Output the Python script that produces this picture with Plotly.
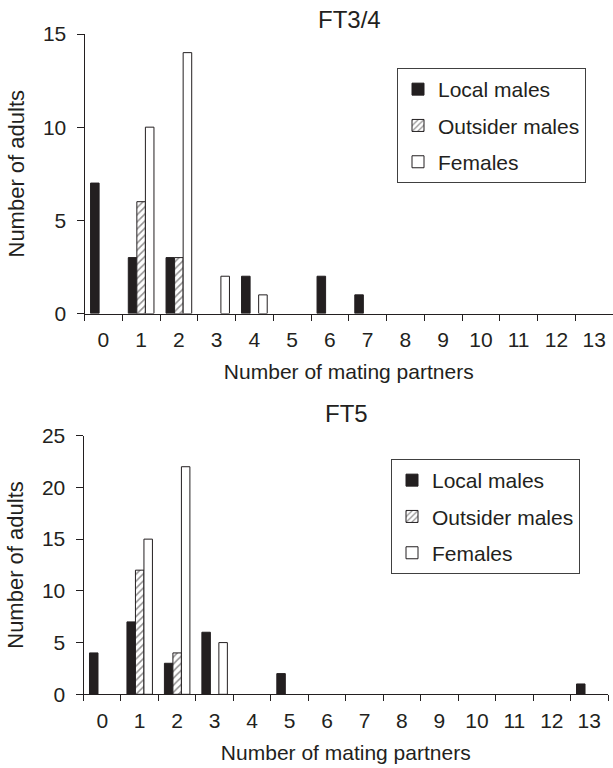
import plotly.graph_objects as go

categories = [str(i) for i in range(14)]

# FT3/4
top_local = [7, 3, 3, 0, 2, 0, 2, 1, 0, 0, 0, 0, 0, 0]
top_outsider = [0, 6, 3, 0, 0, 0, 0, 0, 0, 0, 0, 0, 0, 0]
top_females = [0, 10, 14, 2, 1, 0, 0, 0, 0, 0, 0, 0, 0, 0]

# FT5
bot_local = [4, 7, 3, 6, 0, 2, 0, 0, 0, 0, 0, 0, 0, 1]
bot_outsider = [0, 12, 4, 0, 0, 0, 0, 0, 0, 0, 0, 0, 0, 0]
bot_females = [0, 15, 22, 5, 0, 0, 0, 0, 0, 0, 0, 0, 0, 0]

series_names = ["Local males", "Outsider males", "Females"]
top_y_ticks = [0, 5, 10, 15]
bot_y_ticks = [0, 5, 10, 15, 20, 25]

INK = "#231f20"
FONT = "Liberation Sans, Arial, sans-serif"


def styles(name):
    if name == "Local males":
        return dict(color=INK, line=dict(color=INK, width=1))
    if name == "Outsider males":
        return dict(color="white", line=dict(color=INK, width=1),
                    pattern=dict(shape="/", fgcolor=INK, bgcolor="white", size=5, solidity=0.3))
    return dict(color="white", line=dict(color=INK, width=1))


def nz(vals):
    return [v if v else None for v in vals]


fig = go.Figure()
for name, vals in zip(series_names, [top_local, top_outsider, top_females]):
    fig.add_trace(go.Bar(x=categories, y=nz(vals), name=name, marker=styles(name),
                         xaxis="x", yaxis="y", legend="legend", legendgroup="t" + name))
for name, vals in zip(series_names, [bot_local, bot_outsider, bot_females]):
    fig.add_trace(go.Bar(x=categories, y=nz(vals), name=name, marker=styles(name),
                         xaxis="x2", yaxis="y2", legend="legend2", legendgroup="b" + name))

W, H = 613, 768

xcommon = dict(type="category", range=[-0.5, 13.5], tickson="boundaries", ticks="outside",
               ticklen=6, tickcolor=INK, showline=True, linecolor=INK, linewidth=1,
               showgrid=False, zeroline=False, automargin=False, ticklabelstandoff=7,
               tickfont=dict(family=FONT, size=21, color=INK),
               title=dict(text="Number of mating partners", font=dict(family=FONT, size=21, color=INK), standoff=14))
ycommon = dict(ticks="outside", ticklen=7, tickcolor=INK, showline=True, linecolor=INK,
               linewidth=1, showgrid=False, zeroline=False, automargin=False, ticklabelstandoff=6,
               tickfont=dict(family=FONT, size=21, color=INK),
               title=dict(text="Number of adults", font=dict(family=FONT, size=22, color=INK), standoff=12))

legcommon = dict(xanchor="left", yanchor="top", bordercolor="#404040", borderwidth=1,
                 bgcolor="white", font=dict(family=FONT, size=21, color=INK),
                 traceorder="grouped", tracegroupgap=6)

fig.update_layout(
    width=W, height=H,
    margin=dict(l=0, r=0, t=0, b=0),
    paper_bgcolor="white", plot_bgcolor="white",
    barmode="group", bargap=0.32, bargroupgap=0,
    xaxis=dict(domain=[84.5 / W, 1.0], anchor="y", **xcommon),
    yaxis=dict(domain=[(H - 313.5) / H, (H - 34) / H], anchor="x", range=[0, 15],
               tickvals=top_y_ticks, **ycommon),
    xaxis2=dict(domain=[83.5 / W, 608 / W], anchor="y2", **xcommon),
    yaxis2=dict(domain=[(H - 694.3) / H, (H - 435.7) / H], anchor="x2", range=[0, 25],
                tickvals=bot_y_ticks, **ycommon),
    legend=dict(x=397 / W, y=(H - 68) / H, **legcommon),
    legend2=dict(x=391 / W, y=(H - 459) / H, **legcommon),
    annotations=[
        dict(text="FT3/4", x=349 / W, y=(H - 19) / H, xref="paper", yref="paper",
             showarrow=False, xanchor="center", yanchor="middle",
             font=dict(family=FONT, size=24, color=INK)),
        dict(text="FT5", x=346 / W, y=(H - 413) / H, xref="paper", yref="paper",
             showarrow=False, xanchor="center", yanchor="middle",
             font=dict(family=FONT, size=24, color=INK)),
    ],
    showlegend=True,
)

fig.write_html("out.html")
